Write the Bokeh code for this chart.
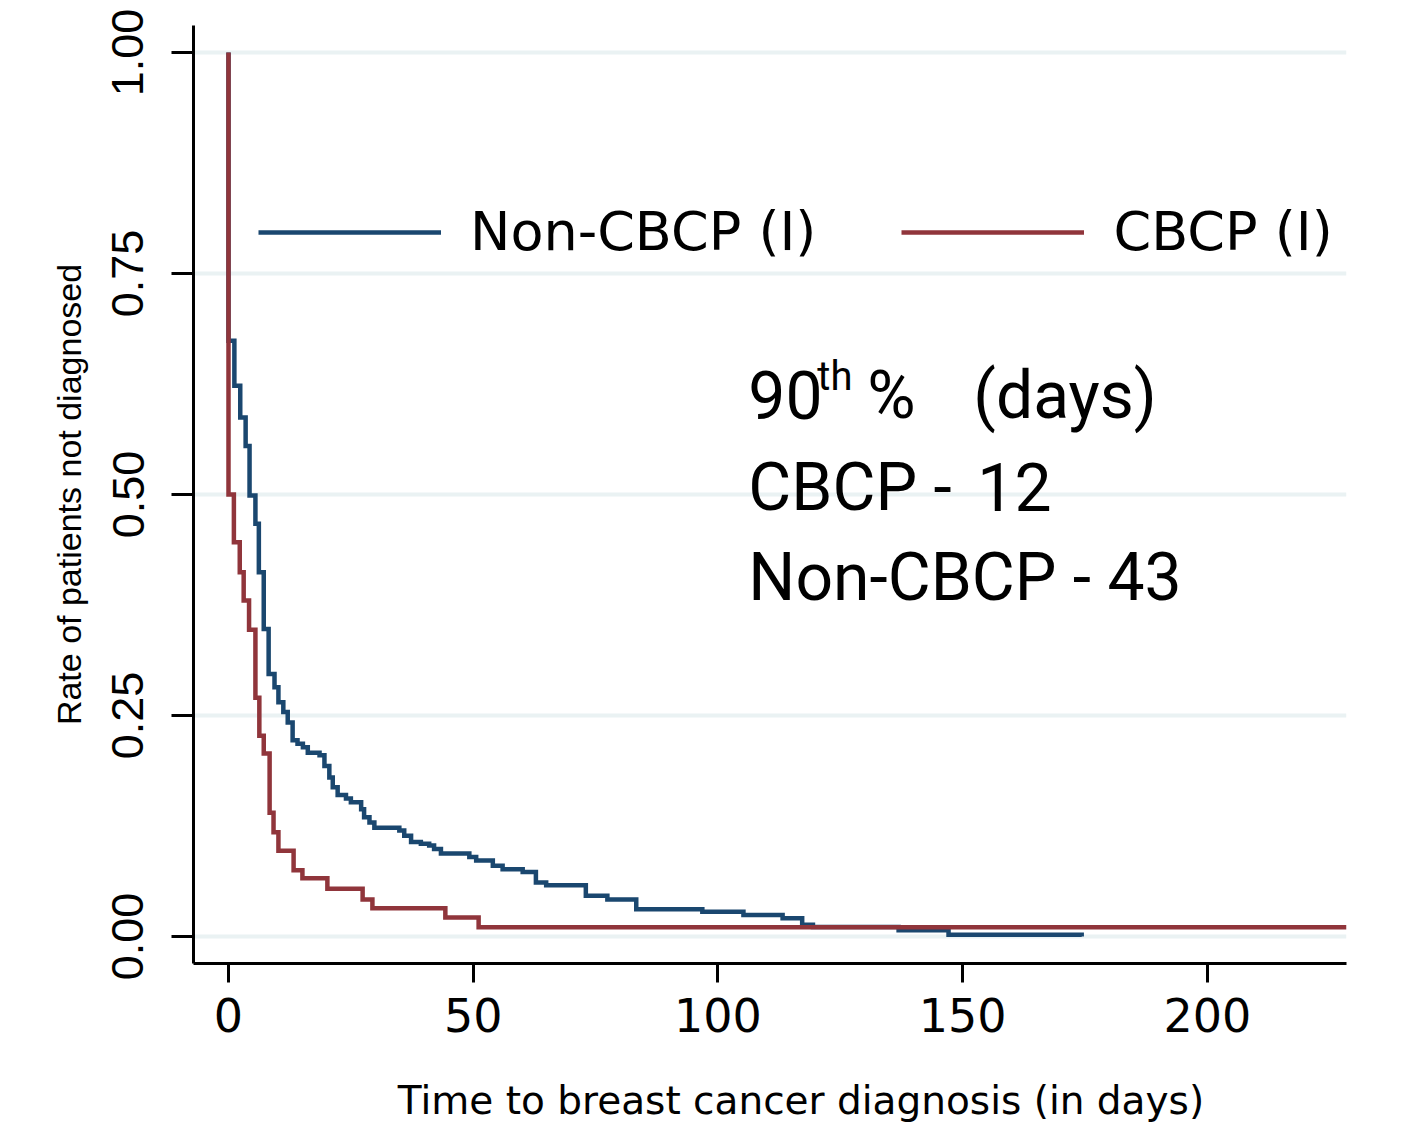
from bokeh.plotting import figure
from bokeh.models import Range1d, FixedTicker, Legend, LegendItem, Label, ColumnDataSource
from bokeh.embed import file_html
from bokeh.resources import INLINE

# ---------------- data ----------------
series_names = ["Non-CBCP (I)", "CBCP (I)"]

non_cbcp_days = [0, 0, 1.2, 2.4, 3.5, 4.3, 5.5, 6.2, 7.2, 8.2, 9.4, 10.2, 11.2, 12.1,
                 13.1, 14.1, 15.2, 16.2, 18.6, 19.6, 20.6, 21.3, 22.3, 24.0, 25.0,
                 27.1, 27.7, 28.8, 29.8, 34.9, 35.9, 37.3, 39.3, 41.0, 42.0, 43.4,
                 49.2, 50.6, 54.0, 56.0, 60.1, 62.8, 64.9, 73.0, 77.4, 83.3, 96.8,
                 105.2, 113.2, 117.2, 119.4, 136.9, 147.1, 174.3]
non_cbcp_rate = [1.0, 0.674, 0.623, 0.587, 0.555, 0.499, 0.467, 0.412, 0.348, 0.297,
                 0.282, 0.265, 0.254, 0.242, 0.222, 0.218, 0.214, 0.208, 0.205, 0.193,
                 0.180, 0.169, 0.160, 0.156, 0.152, 0.144, 0.135, 0.129, 0.123, 0.120,
                 0.114, 0.107, 0.105, 0.103, 0.099, 0.094, 0.090, 0.086, 0.080, 0.076,
                 0.073, 0.061, 0.058, 0.046, 0.042, 0.031, 0.028, 0.0245, 0.0207,
                 0.0132, 0.0108, 0.0071, 0.0019, 0.0]

cbcp_days = [0, 0, 1.1, 2.3, 3.1, 4.2, 5.5, 6.3, 7.2, 8.4, 9.2, 10.2, 13.3, 15.1,
             20.2, 27.4, 29.4, 44.3, 51.1, 228.4]
cbcp_rate = [1.0, 0.5, 0.446, 0.412, 0.38, 0.347, 0.27, 0.227, 0.207, 0.140, 0.118,
             0.097, 0.075, 0.066, 0.054, 0.042, 0.032, 0.0215, 0.0105, 0.0105]

x_ticks = [0, 50, 100, 150, 200]
x_tick_labels = ["0", "50", "100", "150", "200"]
y_ticks = [0.0, 0.25, 0.5, 0.75, 1.0]
y_tick_labels = ["0.00", "0.25", "0.50", "0.75", "1.00"]

x_title = "Time to breast cancer diagnosis (in days)"
y_title = "Rate of patients not diagnosed"

note_x = 106.2
note_lines = ["90", "th", "%", "(days)", "CBCP -", "12", "Non-CBCP - 43"]

# ---------------- styling ----------------
BLUE = "#1a476f"
RED = "#90353b"

p = figure(width=1399, height=1126, output_backend="svg", toolbar_location=None,
           x_range=Range1d(-7.15, 228.4), y_range=Range1d(-0.0305, 1.0305),
           min_border_left=193, min_border_right=53, min_border_top=25,
           min_border_bottom=163)
p.background_fill_color = "white"
p.border_fill_color = "white"
p.outline_line_color = None

src_b = ColumnDataSource(dict(t=non_cbcp_days, s=non_cbcp_rate))
src_r = ColumnDataSource(dict(t=cbcp_days, s=cbcp_rate))
r_blue = p.step("t", "s", source=src_b, mode="after", line_color=BLUE, line_width=4.5,
                line_join="miter")
r_red = p.step("t", "s", source=src_r, mode="after", line_color=RED, line_width=4.5,
               line_join="miter")

# axes
for ax in (p.xaxis[0], p.yaxis[0]):
    ax.axis_line_color = "black"
    ax.axis_line_width = 3
    ax.major_tick_line_color = "black"
    ax.major_tick_line_width = 3
    ax.major_tick_in = 0
    ax.minor_tick_line_color = None
    ax.major_label_text_color = "black"
    ax.axis_label_text_color = "black"
    ax.axis_label_text_font_style = "normal"

p.xaxis.ticker = FixedTicker(ticks=x_ticks)
p.xaxis.major_label_overrides = dict(zip(x_ticks, x_tick_labels))
p.xaxis.major_tick_out = 19
p.xaxis.major_label_standoff = 15
p.xaxis.major_label_text_font = "DejaVu Sans"
p.xaxis.major_label_text_font_size = "46px"
# the reference title sits a little right of centre: pad with no-break spaces
p.xaxis.axis_label = "\u00a0" * 5 + x_title
p.xaxis.axis_label_text_font = "DejaVu Sans"
p.xaxis.axis_label_text_font_size = "39px"
p.xaxis.axis_label_standoff = 43

p.yaxis.ticker = FixedTicker(ticks=y_ticks)
p.yaxis.major_label_overrides = dict(zip(y_ticks, y_tick_labels))
p.yaxis.major_tick_out = 22
p.yaxis.major_label_standoff = 28
p.yaxis.major_label_orientation = "vertical"
p.yaxis.major_label_text_font = "Liberation Sans"
p.yaxis.major_label_text_font_size = "45px"
p.yaxis.axis_label = y_title
p.yaxis.axis_label_text_font = "Liberation Sans"
p.yaxis.axis_label_text_font_size = "34px"
p.yaxis.axis_label_standoff = 22

p.xgrid.visible = False
p.ygrid.ticker = FixedTicker(ticks=y_ticks)
p.ygrid.grid_line_color = "#eaf2f3"
p.ygrid.grid_line_width = 4

# legend
legend = Legend(items=[LegendItem(label=series_names[0], renderers=[r_blue]),
                       LegendItem(label=series_names[1], renderers=[r_red])],
                orientation="horizontal", location=(65, 700), padding=0, margin=0,
                spacing=85, glyph_width=183, glyph_height=40, label_standoff=29,
                label_text_font="DejaVu Sans", label_text_font_size="54px",
                label_text_color="black", border_line_color=None,
                background_fill_alpha=0)
p.add_layout(legend, "center")

# annotation text
font = "Roboto"
big = "66px"
def note(y, text, size=big, dx=0):
    p.add_layout(Label(x=note_x, y=y, x_offset=dx, text=text, text_font=font,
                       text_font_size=size, text_color="black",
                       text_baseline="alphabetic", text_align="left"))

note(0.612, note_lines[0])
note(0.634, note_lines[1], size="40px", dx=69)
note(0.612, note_lines[2], dx=119)
note(0.612, note_lines[3], dx=225)
note(0.5083, note_lines[4])
note(0.5083, note_lines[5], dx=229)
note(0.4061, note_lines[6])

open("out.html", "w").write(file_html(p, INLINE))
